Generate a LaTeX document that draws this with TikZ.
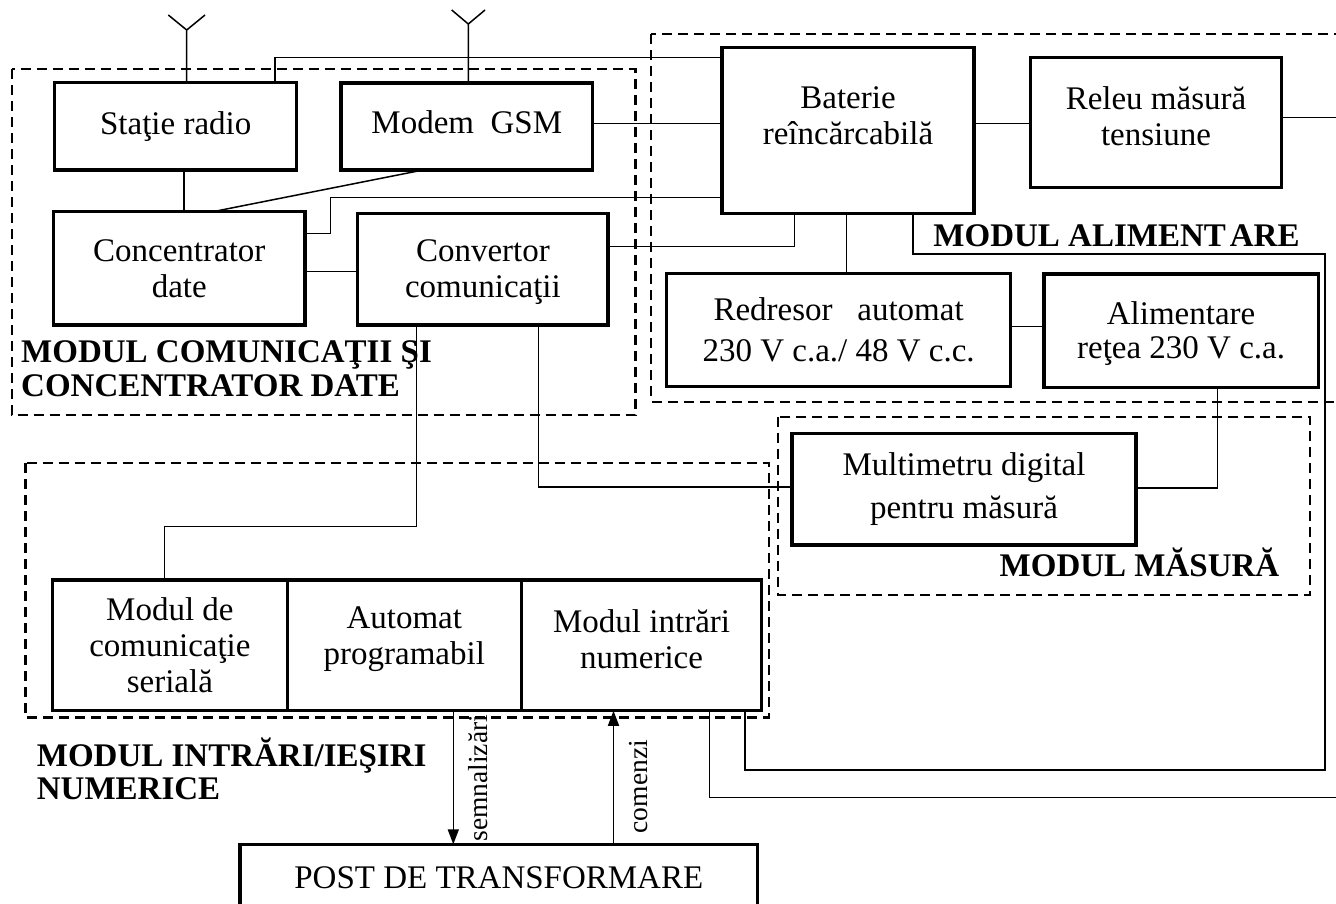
\documentclass[tikz,border=0pt]{standalone}
\usepackage{fontspec}
\setmainfont{Liberation Serif}
\usetikzlibrary{arrows.meta}
\newcommand\bxfont{\fontsize{33}{36}\selectfont}
\newcommand\grpfont{\fontsize{33}{36}\selectfont\bfseries}
\newcommand\sigfont{\fontsize{27.5}{30}\selectfont}
\begin{document}
\begin{tikzpicture}[x=1pt,y=-1pt,
  blk/.style={draw, line width=3.4pt, rectangle, inner sep=0pt, outer sep=0pt,
              align=center, font=\bxfont},
  txt/.style={align=center, font=\bxfont, inner sep=0pt},
  conn/.style={line width=1.5pt},
  arr/.style={line width=1.5pt, -{Triangle[length=15pt,width=11pt]}},
  grp/.style={line width=2.2pt, dash pattern=on 10pt off 6pt},
  grplbl/.style={font=\grpfont, inner sep=0pt},
  sig/.style={font=\sigfont, inner sep=0pt, rotate=90}]
\useasboundingbox (0,0) rectangle (1336,903);

% module frames
\draw[grp] (11.8,69) rectangle (635.5,415);
\draw[grp] (651,34.3) rectangle (1350,401.7);
\draw[grp] (778.3,416.7) rectangle (1309.7,595);
\draw[grp] (25.5,463.3) rectangle (769,717.5);

% communication module
\node[blk, minimum width=242, minimum height=87.3] (radio) at (175.7,126.4) {Staţie radio};
\node[blk, minimum width=251.6, minimum height=87,
      label={[txt, yshift=4pt]center:{Modem\ \ GSM}}] (gsm) at (466.8,126.5) {};
\node[blk, minimum width=251.5, minimum height=113.3] (conc) at (179.3,268.4) {Concentrator\\date};
\node[blk, minimum width=250.3, minimum height=111.7,
      label={[txt, yshift=-3pt]center:{Convertor\\comunicaţii}}] (conv) at (482.9,269.2) {};

% power module
\node[blk, minimum width=252, minimum height=165.6,
      label={[txt, yshift=14.5pt]center:{Baterie\\reîncărcabilă}}] (bat) at (848,130.5) {};
\node[blk, minimum width=250.8, minimum height=130.4,
      label={[txt, yshift=6.5pt]center:{Releu măsură\\tensiune}}] (rel) at (1156,122.5) {};
\node[blk, minimum width=344, minimum height=113.4] (red) at (838.6,330)
      {Redresor\ \ \ automat\\[5pt]230 V c.a./ 48 V c.c.};
\node[blk, minimum width=274.2, minimum height=113.7,
      label={[txt, yshift=-3pt]center:{Alimentare\\[-2pt]reţea 230 V c.a.}}] (ali) at (1181.1,330.9) {};

% measuring module
\node[blk, minimum width=344, minimum height=111.7] (mul) at (964,489.2)
      {Multimetru digital\\[7pt]pentru măsură};

% digital I/O module
\node[blk, minimum width=234.7, minimum height=130.7] (serial) at (169.9,645.4)
      {Modul de\\comunicaţie\\serială};
\node[blk, minimum width=234.2, minimum height=130.7,
      label={[txt, yshift=6pt]center:{Automat\\programabil}}] (plc) at (404.3,645.4) {};
\node[blk, minimum width=240.3, minimum height=130.7,
      label={[txt, yshift=6pt]center:{Modul intrări\\numerice}}] (din) at (641.6,645.4) {};

% substation
\node[blk, minimum width=517.9, minimum height=66] (post) at (498.8,877.3) {POST DE TRANSFORMARE};

% module captions
\node[grplbl, anchor=base west] (lcom1) at (21,362.7) {MODUL COMUNICAŢII ŞI};
\node[grplbl, anchor=base west] (lcom2) at (21,396) {CONCENTRATOR DATE};
\node[grplbl, anchor=base] (lali) at (1116.5,246) {MODUL ALIMENT\kern4pt ARE};
\node[grplbl, anchor=base] (lmas) at (1139.5,576) {MODUL MĂSURĂ};
\node[grplbl, anchor=base west] (lio1) at (36.7,766) {MODUL INTRĂRI/IEŞIRI};
\node[grplbl, anchor=base west] (lio2) at (36.7,799.3) {NUMERICE};

% antennas
\coordinate (ant1) at (186.7,30);
\coordinate (ant2) at (468.3,24);
\draw[conn] (radio.north -| ant1) -- (ant1) (168.3,15) -- (ant1) -- (205,15);
\draw[conn] (gsm.north -| ant2) -- (ant2) (451.7,10) -- (ant2) -- (485,10);

% free ends leaving to the right
\coordinate (edgeA) at (1350,117.3);
\coordinate (edgeB) at (1350,797.7);

% connections
\draw[conn] (radio.north -| 275,0) |- (bat.west |- 0,57.3);
\draw[conn] (gsm.east |- 0,123.3) -- (bat.west |- 0,123.3);
\draw[conn] (radio.south -| 184,0) -- (conc.north -| 184,0);
\draw[conn] (gsm.south -| 423,0) -- (conc.north -| 212.5,0);
\draw[conn] (conc.east |- 0,233.3) -| (330.4,197.3) -- (bat.west |- 0,197.3);
\draw[conn] (conc.east |- 0,271.7) -- (conv.west |- 0,271.7);
\draw[conn] (conv.east |- 0,246.7) -| (bat.south -| 794.5,0);
\draw[conn] (bat.east |- 0,123.3) -- (rel.west |- 0,123.3);
\draw[conn] (rel.east |- edgeA) -- (edgeA);
\draw[conn] (bat.south -| 846.4,0) -- (red.north -| 846.4,0);
\draw[conn] (bat.south -| 913,0) |- (1325,254) |- (745,770) -- (din.south -| 745,0);
\draw[conn] (red.east |- 0,326.7) -- (ali.west |- 0,326.7);
\draw[conn] (ali.south -| 1217.5,0) |- (mul.east |- 0,488);
\draw[conn] (conv.south -| 538.3,0) |- (mul.west |- 0,487);
\draw[conn] (conv.south -| 416.5,0) |- (164.3,526.7) -- (serial.north -| 164.3,0);
\draw[conn] (din.south -| 709.3,0) |- (edgeB);

% signals to and from the substation
\draw[arr] (plc.south -| 453.3,0) -- (post.north -| 453.3,0);
\draw[arr] (post.north -| 613.5,0) -- (din.south -| 613.5,0);
\node[sig] (lsem) at (477.8,778.3) {semnalizări};
\node[sig] (lcmd) at (639,786.7) {comenzi};
\end{tikzpicture}
\end{document}
